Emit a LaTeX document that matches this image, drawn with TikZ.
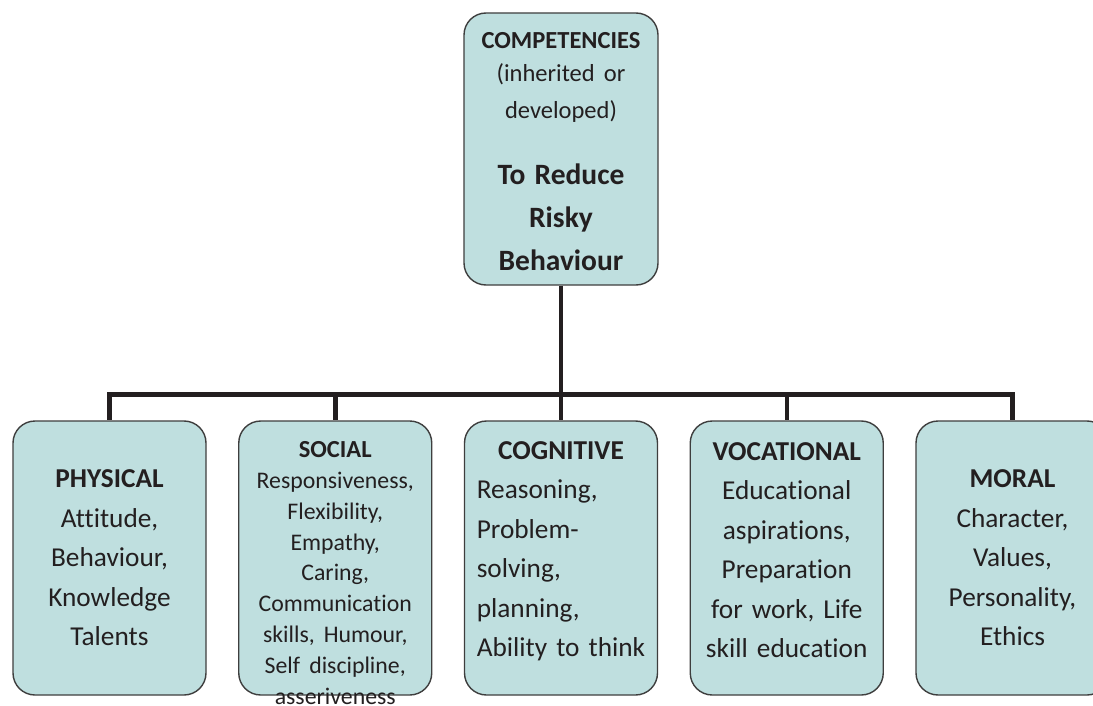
\documentclass[tikz,border=0pt]{standalone}
\usepackage{fontspec}
\setmainfont{Carlito}[Ligatures={NoCommon,NoDiscretionary},WordSpace=0.85]
\usetikzlibrary{positioning}
\definecolor{boxfill}{RGB}{191,223,223}
\definecolor{boxline}{RGB}{62,62,62}
\definecolor{ink}{RGB}{35,31,32}

\begin{document}
\begin{tikzpicture}[x=1pt,y=-1pt,node distance=225.75pt,on grid,
  box/.style={draw=boxline,line width=1.4pt,fill=boxfill,rounded corners=22pt,
    minimum width=193pt,minimum height=274pt,inner sep=0pt,
    text width=190pt,align=center,text=ink,
    font=\fontsize{27.3}{39.5}\selectfont},
  link/.style={draw=ink,line width=4.5pt}]
\useasboundingbox (0,0) rectangle (1093,706);

% top of the tree
\node[box,minimum width=194pt,minimum height=272pt] (top) at (561,149)
  {{\fontsize{24.5}{36.5}\selectfont\rule{0pt}{21pt}\textbf{COMPETENCIES}\\[-3.5pt](inherited or\\developed)\par}
   \vspace{23pt}
   {\fontsize{29.5}{43}\selectfont\bfseries To Reduce\\Risky\\Behaviour\par}};

% the five groups
\node[box] (cog) at (561,558) {\textbf{COGNITIVE}\\
  \begin{tabular}[t]{@{}l@{}}Reasoning,\\Problem-\\solving,\\planning,\\Ability to think\end{tabular}\par
  \vspace{6pt}};
\node[box] (soc) [left=of cog]
  {\fontsize{23.8}{30.8}\selectfont\rule{0pt}{32pt}{\fontsize{24.5}{30.8}\selectfont\textbf{SOCIAL}}\\
   Responsiveness,\\Flexibility,\\Empathy,\\Caring,\\Communication\\skills, Humour,\\
   Self discipline,\\asseriveness\par\vspace{-14pt}};
\node[box] (phy) [left=of soc] {\textbf{PHYSICAL}\\Attitude,\\Behaviour,\\Knowledge\\Talents};
\node[box] (voc) [right=of cog]
  {\textbf{VOCATIONAL}\\Educational\\aspirations,\\Preparation\\for work, Life\\skill education\par
   \vspace{16pt}};
\node[box] (mor) [right=of voc] {\textbf{MORAL}\\Character,\\Values,\\Personality,\\Ethics};

% connectors
\coordinate (bus) at (561,394.5);
\draw[link] (top.south) -- (bus);
\foreach \n in {phy,soc,cog,voc,mor}
  \draw[link] (bus) -| (\n.north);
\end{tikzpicture}
\end{document}
